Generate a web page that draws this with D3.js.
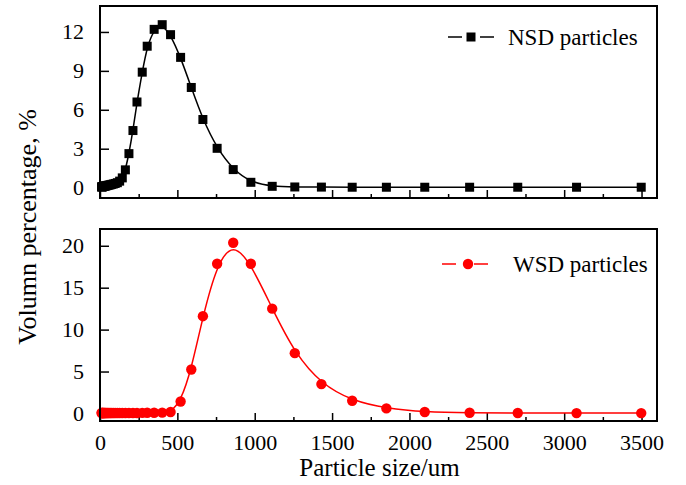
<!DOCTYPE html>
<html>
<head>
<meta charset="utf-8">
<script src="https://cdn.jsdelivr.net/npm/d3@7/dist/d3.min.js"></script>
<style>
  body { margin: 0; background: #fff; }
</style>
</head>
<body>
<svg id="chart" width="686" height="485"></svg>
<script>
// particle size classes, um
var sizes = [10, 12, 14, 16, 18, 21, 24, 27, 31, 35, 40, 46, 52, 59, 67, 76, 86, 98,
  112, 127, 144, 164, 187, 213, 239, 273, 305, 350, 402, 456, 521, 590, 665, 757,
  861, 975, 1113, 1259, 1431, 1630, 1851, 2099, 2389, 2700, 3080, 3498];

// volume percentage, %
var nsd = [0.05, 0.06, 0.06, 0.07, 0.08, 0.09, 0.1, 0.11, 0.12, 0.13, 0.14, 0.16, 0.18,
  0.2, 0.22, 0.25, 0.28, 0.32, 0.38, 0.5, 0.75, 1.37, 2.62, 4.4, 6.6, 8.9, 10.9, 12.2,
  12.56, 11.79, 10.04, 7.72, 5.25, 3.03, 1.39, 0.41, 0.1, 0.05, 0.04, 0.03, 0.03, 0.03,
  0.03, 0.03, 0.03, 0.03];

var wsd = [0.05, 0.05, 0.05, 0.05, 0.05, 0.05, 0.05, 0.05, 0.05, 0.05, 0.05, 0.05, 0.05,
  0.05, 0.05, 0.05, 0.05, 0.05, 0.05, 0.05, 0.05, 0.05, 0.05, 0.06, 0.06, 0.07, 0.08,
  0.09, 0.1, 0.17, 1.43, 5.24, 11.6, 17.86, 20.36, 17.86, 12.5, 7.19, 3.5, 1.51, 0.6,
  0.17, 0.08, 0.05, 0.04, 0.04];

var xMajor = [0, 500, 1000, 1500, 2000, 2500, 3000, 3500];
var xMinor = [250, 750, 1250, 1750, 2250, 2750, 3250];
var yTopTicks = [0, 3, 6, 9, 12];
var yBotTicks = [0, 5, 10, 15, 20];

var FONT = '"Liberation Serif", "Times New Roman", "DejaVu Serif", serif';

var svg = d3.select('#chart').style('font-family', FONT);
var left = 100, right = 657;

var x = d3.scaleLinear().domain([0, 3600]).range([left, right]);

var panels = [
  { name: 'NSD particles', data: nsd, color: '#000', top: 6, bottom: 198,
    domain: [-0.8, 14], ticks: yTopTicks, marker: 'square', labels: false,
    legend: [448, 37] },
  { name: 'WSD particles', data: wsd, color: '#ff0000', top: 229, bottom: 421,
    domain: [-0.9, 22], ticks: yBotTicks, marker: 'circle', labels: true,
    legend: [442, 264] }
];

panels.forEach(function(p) {
  var y = d3.scaleLinear().domain(p.domain).range([p.bottom, p.top]);
  var g = svg.append('g');

  // x axis ticks (inside)
  var xa = g.append('g')
    .attr('transform', 'translate(0,' + p.bottom + ')')
    .call(d3.axisBottom(x).tickValues(xMajor).tickFormat(d3.format('d'))
      .tickSize(-8).tickPadding(13));
  xa.select('.domain').remove();
  xa.attr('font-family', FONT);
  xa.selectAll('line').attr('stroke-width', 1.5);
  xa.selectAll('text').style('font-size', '22px').style('font-family', FONT).attr('fill', '#000');
  if (!p.labels) xa.selectAll('text').remove();

  var xm = g.append('g')
    .attr('transform', 'translate(0,' + p.bottom + ')')
    .call(d3.axisBottom(x).tickValues(xMinor).tickSize(-4).tickFormat(''));
  xm.select('.domain').remove();
  xm.selectAll('line').attr('stroke-width', 1.5);

  // y axis
  var ya = g.append('g')
    .attr('transform', 'translate(' + left + ',0)')
    .call(d3.axisLeft(y).tickValues(p.ticks).tickFormat(d3.format('d'))
      .tickSize(-9).tickPadding(16));
  ya.select('.domain').remove();
  ya.attr('font-family', FONT);
  ya.selectAll('line').attr('stroke-width', 1.5);
  ya.selectAll('text').style('font-size', '22px').style('font-family', FONT).attr('fill', '#000');

  // curve
  var line = d3.line()
    .x(function(d, i) { return x(sizes[i]); })
    .y(function(d) { return y(d); })
    .curve(d3.curveBasis);

  g.append('path')
    .datum(p.data)
    .attr('fill', 'none')
    .attr('stroke', p.color)
    .attr('stroke-width', 1.5)
    .attr('d', line);

  // markers
  if (p.marker === 'square') {
    g.selectAll('rect.pt').data(p.data).enter().append('rect')
      .attr('class', 'pt')
      .attr('x', function(d, i) { return x(sizes[i]) - 4.5; })
      .attr('y', function(d) { return y(d) - 4.5; })
      .attr('width', 9).attr('height', 9)
      .attr('fill', p.color);
  } else {
    g.selectAll('circle.pt').data(p.data).enter().append('circle')
      .attr('class', 'pt')
      .attr('cx', function(d, i) { return x(sizes[i]); })
      .attr('cy', function(d) { return y(d); })
      .attr('r', 5.2)
      .attr('fill', p.color);
  }

  // frame
  g.append('rect')
    .attr('x', left).attr('y', p.top)
    .attr('width', right - left).attr('height', p.bottom - p.top)
    .attr('fill', 'none').attr('stroke', '#000').attr('stroke-width', 2);

  // legend
  var lx = p.legend[0], ly = p.legend[1];
  var lg = g.append('g');
  lg.append('line').attr('x1', lx).attr('x2', lx + 14).attr('y1', ly).attr('y2', ly)
    .attr('stroke', p.color).attr('stroke-width', 1.5);
  lg.append('line').attr('x1', lx + 32).attr('x2', lx + 46).attr('y1', ly).attr('y2', ly)
    .attr('stroke', p.color).attr('stroke-width', 1.5);
  if (p.marker === 'square') {
    lg.append('rect').attr('x', lx + 23 - 4.5).attr('y', ly - 4.5)
      .attr('width', 9).attr('height', 9).attr('fill', p.color);
  } else {
    lg.append('circle').attr('cx', lx + 26).attr('cy', ly).attr('r', 5.2)
      .attr('fill', p.color);
  }
  lg.append('text')
    .attr('x', p.marker === 'square' ? lx + 60 : lx + 71)
    .attr('y', ly + 7.5)
    .style('font-size', '23px')
    .style('font-family', FONT)
    .text(p.name);
});

// axis titles
svg.append('text')
  .attr('x', (left + right) / 2 + 1)
  .attr('y', 476)
  .attr('text-anchor', 'middle')
  .style('font-size', '25px')
  .style('font-family', FONT)
  .text('Particle size/um');

svg.append('text')
  .attr('transform', 'translate(36,227) rotate(-90)')
  .attr('text-anchor', 'middle')
  .style('font-size', '26px')
  .style('font-family', FONT)
  .text('Volumn percentage, %');
</script>
</body>
</html>
